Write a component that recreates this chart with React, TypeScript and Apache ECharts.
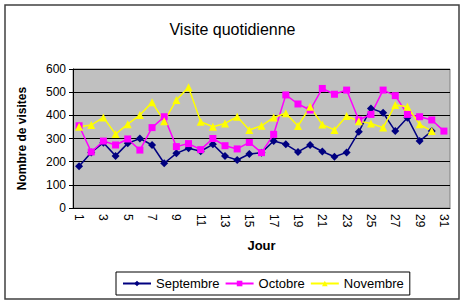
import React, { useEffect, useRef } from "react";
import * as echarts from "echarts";

const days = Array.from({ length: 31 }, (_, i) => String(i + 1));
const septembre = [180, 240, 282, 225, 279, 300, 272, 193, 236, 258, 245, 275, 224, 207, 233, 239, 289, 275, 242, 272, 244, 221, 240, 329, 430, 411, 332, 390, 289, 332, null];
const octobre = [355, 242, 289, 272, 298, 250, 347, 394, 265, 278, 252, 300, 269, 255, 283, 239, 318, 488, 449, 423, 516, 491, 509, 380, 404, 509, 485, 404, 394, 380, 332];
const novembre = [351, 358, 391, 319, 362, 401, 456, 375, 466, 521, 372, 351, 365, 394, 337, 355, 391, 409, 354, 437, 360, 337, 397, 375, 365, 347, 445, 437, 361, 332, null];
const yTicks = { min: 0, max: 600, interval: 100 };

const FONT = "Liberation Sans, Arial, sans-serif";

export default function App() {
  const ref = useRef<HTMLDivElement>(null);
  useEffect(() => {
    if (!ref.current) return;
    const chart = echarts.init(ref.current, null, { renderer: "svg" });
    const mk = (name: string, data: (number | null)[], color: string, symbol: string, size: number) => ({
      name,
      type: "line",
      data,
      symbol,
      symbolSize: size,
      showSymbol: true,
      lineStyle: { color, width: 1.5 },
      itemStyle: { color, borderWidth: 0 },
    });
    chart.setOption({
      animation: false,
      backgroundColor: "#ffffff",
      textStyle: { fontFamily: FONT },
      title: {
        text: "Visite quotidienne",
        left: "center",
        top: 16,
        textStyle: { fontFamily: FONT, fontSize: 16, fontWeight: "normal", color: "#000" },
      },
      graphic: [
        {
          type: "rect",
          shape: { x: 5, y: 5, width: 454, height: 294 },
          style: { fill: "none", stroke: "#404040", lineWidth: 1.5 },
          silent: true,
          z: -1,
        },
      ],
      grid: { left: 73, right: 15, top: 69, bottom: 97, containLabel: false, show: true, backgroundColor: "#c0c0c0", borderColor: "#808080", borderWidth: 1 },
      legend: {
        left: 116,
        top: 272,
        orient: "horizontal",
        borderColor: "#000",
        borderWidth: 1,
        backgroundColor: "#fff",
        padding: [5, 6, 5, 6],
        itemGap: 5,
        itemWidth: 28,
        itemHeight: 7,
        textStyle: { fontFamily: FONT, fontSize: 13, color: "#000" },
        data: ["Septembre", "Octobre", "Novembre"],
      },
      xAxis: {
        type: "category",
        data: days,
        boundaryGap: true,
        name: "Jour",
        nameLocation: "middle",
        nameGap: 31,
        nameMoveOverlap: false,
        nameTextStyle: { fontFamily: FONT, fontSize: 13, fontWeight: "bold", color: "#000" },
        axisLine: { lineStyle: { color: "#000", width: 1 } },
        axisTick: { interval: 0, length: 4, lineStyle: { color: "#000" } },
        axisLabel: { interval: 1, rotate: -90, fontSize: 12, color: "#000", fontFamily: FONT, margin: 6 },
        splitLine: { show: false },
      },
      yAxis: {
        type: "value",
        min: yTicks.min,
        max: yTicks.max,
        interval: yTicks.interval,
        name: "Nombre de visites",
        nameLocation: "middle",
        nameRotate: 90,
        nameGap: 45,
        nameTextStyle: { fontFamily: FONT, fontSize: 12, fontWeight: "bold", color: "#000" },
        axisLine: { show: true, lineStyle: { color: "#000", width: 1 } },
        axisTick: { show: true, length: 4, lineStyle: { color: "#000" } },
        axisLabel: { fontSize: 12, color: "#000", fontFamily: FONT, margin: 7 },
        splitLine: { show: true, lineStyle: { color: "#000", width: 1 } },
      },
      series: [
        mk("Septembre", septembre, "#000080", "diamond", 8),
        mk("Octobre", octobre, "#ff00ff", "rect", 7),
        mk("Novembre", novembre, "#ffff00", "triangle", 8),
      ],
    });
    return () => chart.dispose();
  }, []);
  return <div ref={ref} style={{ position: "fixed", left: 0, top: 0, width: 465, height: 305 }} />;
}
